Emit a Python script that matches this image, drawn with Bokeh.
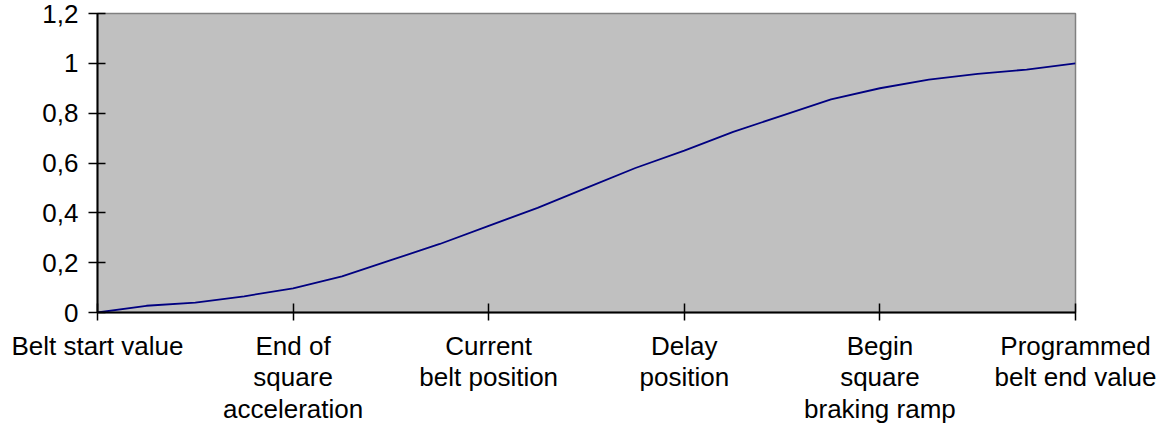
from bokeh.plotting import figure
from bokeh.models import FixedTicker, CustomJSTickFormatter, Range1d
from bokeh.embed import file_html
from bokeh.resources import INLINE

# data: 21 evenly spaced samples between the 6 labelled positions
steps = list(range(21))
position = [0.0, 0.027, 0.040, 0.065, 0.097, 0.145, 0.21, 0.275, 0.348, 0.42,
            0.50, 0.58, 0.65, 0.725, 0.79, 0.855, 0.90, 0.935, 0.958, 0.975, 1.0]
category_steps = [0, 4, 8, 12, 16, 20]
category_labels = ["Belt start value", "End of\nsquare\nacceleration",
                   "Current\nbelt position", "Delay\nposition",
                   "Begin\nsquare\nbraking ramp", "Programmed\nbelt end value"]
y_ticks = [0, 0.2, 0.4, 0.6, 0.8, 1.0, 1.2]

FONT = "Liberation Sans"

p = figure(width=1161, height=427, output_backend="svg", toolbar_location=None,
           x_range=Range1d(0, 20), y_range=Range1d(0, 1.2),
           min_border_left=97, min_border_right=86, min_border_top=13, min_border_bottom=115)

p.background_fill_color = "#C0C0C0"
p.border_fill_color = "white"
p.outline_line_color = "#808080"
p.outline_line_width = 1.5
p.grid.visible = False

p.line(steps, position, line_color="#000080", line_width=1.8)

xa = p.xaxis[0]
xa.ticker = FixedTicker(ticks=category_steps)
xa.major_label_overrides = {s: l for s, l in zip(category_steps, category_labels)}
xa.minor_tick_line_color = None
xa.axis_line_color = "black"
xa.axis_line_width = 2
xa.major_tick_line_color = "black"
xa.major_tick_line_width = 1.5
xa.major_tick_in = 9
xa.major_tick_out = 8
xa.major_label_standoff = 10
xa.major_label_text_font = FONT
xa.major_label_text_font_size = "26px"
xa.major_label_text_color = "black"
xa.major_label_text_line_height = 1.05

ya = p.yaxis[0]
ya.ticker = FixedTicker(ticks=y_ticks)
ya.formatter = CustomJSTickFormatter(code="return String(Math.round(tick*10)/10).replace('.', ',');")
ya.minor_tick_line_color = None
ya.axis_line_color = "black"
ya.axis_line_width = 2
ya.major_tick_line_color = "black"
ya.major_tick_line_width = 1.5
ya.major_tick_in = 8
ya.major_tick_out = 9
ya.major_label_standoff = 10
ya.major_label_text_font = FONT
ya.major_label_text_font_size = "26px"
ya.major_label_text_color = "black"

open("out.html", "w").write(file_html(p, INLINE))
